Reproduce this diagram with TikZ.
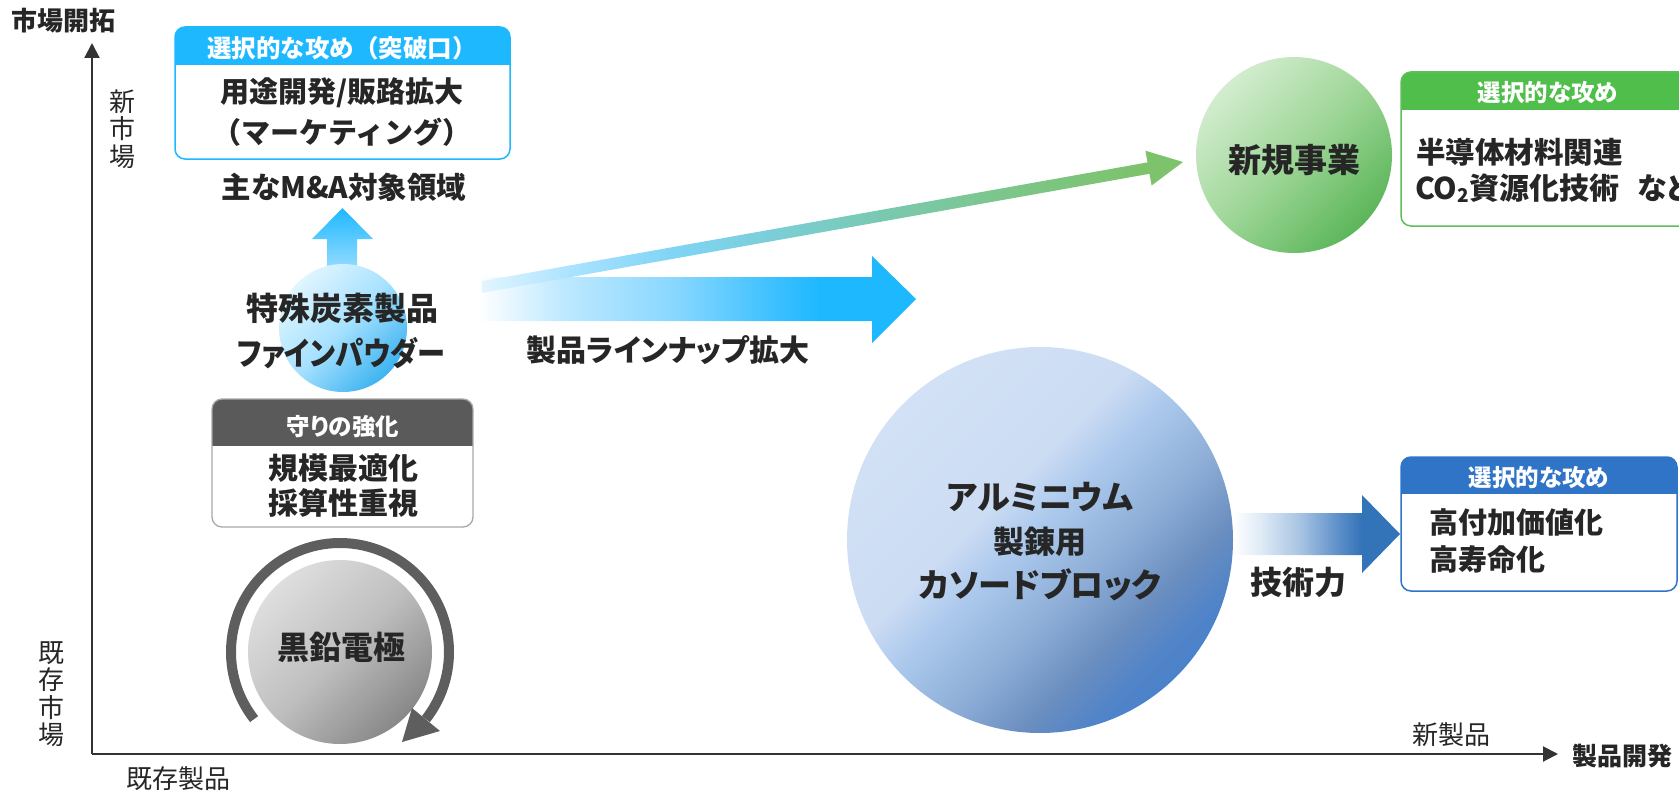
\documentclass[tikz,border=0pt]{standalone}
\usepackage{fontspec}
\setmainfont{Noto Sans CJK JP}[RawFeature=+palt]
\newfontfamily\jpfull{Noto Sans CJK JP}
\usetikzlibrary{arrows.meta}
\definecolor{txt}{HTML}{262626}
\definecolor{cyanH}{HTML}{1EB8FF}
\definecolor{greenH}{HTML}{50BE4B}
\definecolor{greenB}{HTML}{5DBE5A}
\definecolor{blueH}{HTML}{2F74C7}
\definecolor{grayH}{HTML}{5A5A5A}
\definecolor{grayB}{HTML}{A8A8A8}
\definecolor{axisC}{HTML}{333333}
\definecolor{ringC}{HTML}{5E5E5E}
% big arrow
\definecolor{ba1}{HTML}{BDE8FF}\definecolor{ba2}{HTML}{8BD8FF}\definecolor{ba3}{HTML}{3CC0FF}
\pgfdeclarehorizontalshading{bigarr}{100bp}{color(0bp)=(white); color(25bp)=(white); color(35bp)=(ba1); color(47bp)=(ba2); color(59bp)=(ba3); color(64bp)=(cyanH); color(100bp)=(cyanH)}
% diagonal arrow
\definecolor{d0}{HTML}{E2F5FF}\definecolor{d1}{HTML}{A8E2FF}\definecolor{d2}{HTML}{80D4F5}
\definecolor{d3}{HTML}{7BCED6}\definecolor{d4}{HTML}{79C9B4}\definecolor{d5}{HTML}{7CC68C}\definecolor{d6}{HTML}{7DC36B}
\pgfdeclarehorizontalshading{diagarr}{100bp}{color(0bp)=(d0); color(25bp)=(d0); color(31.6bp)=(d1); color(38.7bp)=(d2); color(45.8bp)=(d3); color(52.9bp)=(d4); color(62bp)=(d5); color(72bp)=(d6); color(100bp)=(d6)}
% tech arrow
\definecolor{ta1}{HTML}{E0EBF6}\definecolor{ta2}{HTML}{A8C4E3}\definecolor{ta3}{HTML}{5A8DC8}\definecolor{ta4}{HTML}{3373B8}
\pgfdeclarehorizontalshading{techarr}{100bp}{color(0bp)=(white); color(25bp)=(white); color(33bp)=(ta1); color(45bp)=(ta2); color(57bp)=(ta3); color(63.6bp)=(ta4); color(100bp)=(ta4)}
% circles (vertical shading, rotated 45: top -> top-left)
\definecolor{bc0}{HTML}{4A82CA}\definecolor{bc1}{HTML}{5284C8}\definecolor{bc2}{HTML}{6A8EBF}
\definecolor{bc3}{HTML}{8FAFD8}\definecolor{bc4}{HTML}{AECBEE}\definecolor{bc5}{HTML}{CCDCF3}\definecolor{bc6}{HTML}{D2E1F5}
\pgfdeclareverticalshading{bigcirc}{100bp}{color(0bp)=(bc0); color(25bp)=(bc0); color(28.5bp)=(bc1); color(34bp)=(bc2); color(42.5bp)=(bc3); color(52bp)=(bc4); color(57.5bp)=(bc5); color(75bp)=(bc6); color(100bp)=(bc6)}
\definecolor{gc0}{HTML}{5CB65A}\definecolor{gc1}{HTML}{9ED697}\definecolor{gc2}{HTML}{D3ECCF}
\pgfdeclareverticalshading{greencirc}{100bp}{color(0bp)=(gc0); color(25bp)=(gc0); color(50bp)=(gc1); color(75bp)=(gc2); color(100bp)=(gc2)}
\definecolor{lc0}{HTML}{3DB3F0}\definecolor{lc1}{HTML}{A6E1FF}\definecolor{lc2}{HTML}{E0F5FF}
\pgfdeclareverticalshading{lbcirc}{100bp}{color(0bp)=(lc0); color(25bp)=(lc0); color(50bp)=(lc1); color(75bp)=(lc2); color(100bp)=(lc2)}
\definecolor{gr0}{HTML}{888888}\definecolor{gr1}{HTML}{BFBFBF}\definecolor{gr2}{HTML}{DEDEDE}
\pgfdeclareverticalshading{graycirc}{100bp}{color(0bp)=(gr0); color(25bp)=(gr0); color(50bp)=(gr1); color(75bp)=(gr2); color(100bp)=(gr2)}

\newcommand{\hdrbox}[6]{% x1 y1 x2 y2 yheader colour
  \begin{scope}
    \clip[rounded corners=10pt] (#1,#2) rectangle (#3,#4);
    \fill[white] (#1,#2) rectangle (#3,#4);
    \fill[#6] (#1,#2) rectangle (#3,#5);
  \end{scope}}

\tikzset{
  fb/.style={text=txt, inner sep=0pt, font=\fontsize{#1pt}{#1pt}\selectfont\bfseries},
  fbf/.style={text=txt, inner sep=0pt, font=\jpfull\fontsize{#1pt}{#1pt}\selectfont\bfseries},
  fr/.style={text=txt, inner sep=0pt, font=\fontsize{#1pt}{#1pt}\selectfont},
  fh/.style={text=white, inner sep=0pt, font=\fontsize{#1pt}{#1pt}\selectfont\bfseries},
  fhf/.style={text=white, inner sep=0pt, font=\jpfull\fontsize{#1pt}{#1pt}\selectfont\bfseries},
  vert/.style={text=txt, inner sep=0pt, align=center, font=\fontsize{26pt}{27.5pt}\selectfont},
  axisline/.style={draw=axisC, line width=2pt, -{Triangle[length=15pt,width=15pt]}},
}

\begin{document}
\begin{tikzpicture}[x=1pt,y=-1pt]
\useasboundingbox (0,0) rectangle (1679,792);
\clip (0,0) rectangle (1679,792);

% axes
\coordinate (O) at (92,754);
\coordinate (Ytop) at (92,43);
\coordinate (Xend) at (1558,754);
\draw[axisline] (O) -- (Ytop);
\draw[axisline] (O) -- (Xend);

% top-left box
\hdrbox{175}{27}{510}{159}{65}{cyanH}
\draw[cyanH, line width=1.5pt, rounded corners=10pt] (175,27) rectangle (510,159);
% gray box
\hdrbox{212}{399}{473}{527}{446}{grayH}
\draw[grayB, line width=1.3pt, rounded corners=10pt] (212,399) rectangle (473,527);

% up arrow and light-blue circle
\shade[top color=cyanH, bottom color=ba1] (327,290) -- (327,239) -- (312,239) -- (342.5,208) -- (373,239) -- (357,239) -- (357,290) -- cycle;
\shade[shading=lbcirc, shading angle=45] (343,328) circle[radius=64];

% big arrow
\shade[shading=bigarr] (478,277) -- (872,277) -- (872,256) -- (916,299) -- (872,343) -- (872,321) -- (478,321) -- cycle;
% diagonal arrow
\shade[shading=diagarr] (482,281.1) -- (1147.5,162.4) -- (1145.4,150.7) -- (1183,162) -- (1151.6,185.5) -- (1149.5,173.8) -- (482,292.9) -- cycle;

% tech arrow and big circle
\shade[shading=techarr] (1233,513) -- (1362,513) -- (1362,495) -- (1400,534) -- (1362,573) -- (1362,555) -- (1233,555) -- cycle;
\shade[shading=bigcirc, shading angle=45] (1040,540) circle[radius=193];

% green circle and boxes
\shade[shading=greencirc, shading angle=45] (1294,155) circle[radius=98];
\hdrbox{1401}{72}{1695}{226}{110}{greenH}
\draw[greenB, line width=1.5pt, rounded corners=10pt] (1401,72) rectangle (1695,226);
\hdrbox{1401}{457}{1677}{591}{494}{blueH}
\draw[blueH, line width=1.5pt, rounded corners=10pt] (1401,457) rectangle (1677,591);

% graphite circle with cycle arrow
\shade[shading=graycirc, shading angle=45] (340,652) circle[radius=92];
\draw[ringC, line width=10pt] (340,652) ++(142:109) arc[start angle=142, end angle=398, radius=109];
\fill[ringC] (412,708) -- (440,731) -- (402,742) -- cycle;

% texts
\node[fb=26] (title) at (64,21) {市場開拓};
\node[vert] (newmkt) at (122,129) {新\\市\\場};
\node[vert] (oldmkt) at (51,694) {既\\存\\市\\場};
\node[fr=26] (oldprod) at (178,779) {既存製品};
\node[fr=26] (newprod) at (1451,735) {新製品};
\node[fb=25] (proddev) at (1622,756) {製品開発};

\node[fhf=24.5] (h1) at (342,48) {選択的な攻め（突破口）};
\node[fb=29] (b1a) at (342,93) {用途開発/販路拡大};
\node[fbf=29] (b1b) at (342,132) {（マーケティング）};
\node[fb=29.5] (ma) at (344,187) {主なM\&A対象領域};
\node[fb=32] (sp1) at (342,308) {特殊炭素製品};
\node[fb=32] (sp2) at (341,353) {\addfontfeature{FakeStretch=0.88}ファインパウダー};

\node[fh=23.5] (h2) at (343,427) {守りの強化};
\node[fb=30] (b2a) at (343,468) {規模最適化};
\node[fb=30] (b2b) at (343,503) {採算性重視};
\node[fb=32] (gr) at (341,647) {黒鉛電極};

\node[fb=30] (lineup) at (668,350) {製品ラインナップ拡大};
\node[fb=33] (newbiz) at (1294,160) {新規事業};
\node[fh=23.5] (h3) at (1548,93) {選択的な攻め};
\node[fb=29.5, anchor=west] (b3a) at (1416,152) {半導体材料関連};
\node[fb=30, anchor=west] (b3b) at (1415,188) {CO\raisebox{-0.12em}{\fontsize{19pt}{19pt}\selectfont 2}資源化技術\hspace{0.6em}など};

\node[fb=33] (al1) at (1040,497) {アルミニウム};
\node[fb=31] (al2) at (1040,542) {製錬用};
\node[fb=33] (al3) at (1040,585) {カソードブロック};
\node[fb=32] (tech) at (1298,582) {技術力};
\node[fh=23.5] (h4) at (1539,478) {選択的な攻め};
\node[fb=29, anchor=west] (b4a) at (1429,522) {高付加価値化};
\node[fb=29, anchor=west] (b4b) at (1429,560) {高寿命化};
\end{tikzpicture}
\end{document}
